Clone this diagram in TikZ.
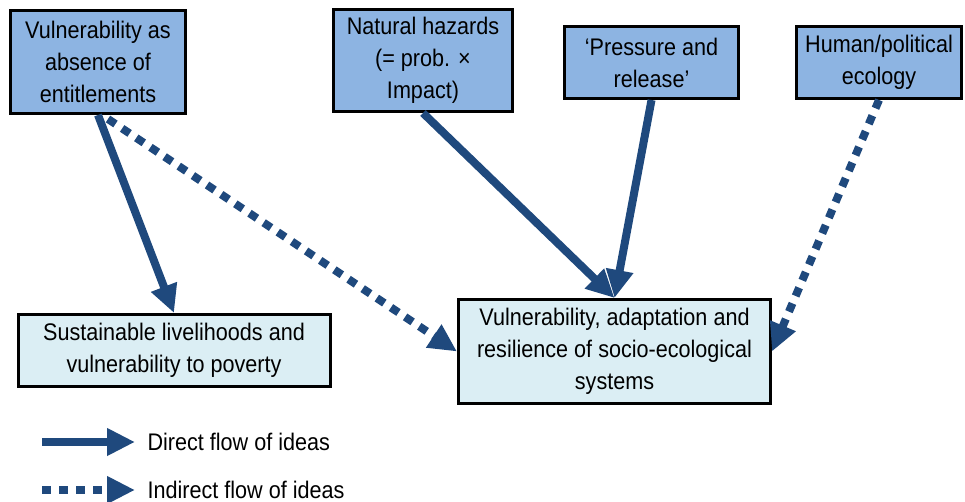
\documentclass[tikz,border=0pt]{standalone}
\usepackage{fontspec}
\setmainfont{Liberation Sans}[FakeStretch=0.9]
\usetikzlibrary{arrows.meta}
\definecolor{hdrblue}{HTML}{8DB4E2}
\definecolor{paleblue}{HTML}{DBEEF4}
\definecolor{flowblue}{HTML}{1F497D}
\tikzset{
  every node/.style={font=\fontsize{24}{32}\selectfont},
  topbox/.style={draw=black, line width=3pt, fill=hdrblue, align=center, inner sep=0pt},
  lowbox/.style={draw=black, line width=3pt, fill=paleblue, align=center, inner sep=0pt},
  direct/.style={draw=flowblue, line width=8pt, -{Triangle[length=28pt,width=26pt]}},
  indirect/.style={direct, dash pattern=on 9pt off 8pt}
}
\begin{document}
\begin{tikzpicture}[x=1pt,y=-1pt]
   \useasboundingbox (0,0) rectangle (965,502);
   % source boxes
   \node[topbox, minimum width=175pt, minimum height=103pt] (entitle) at (98,62)
        {Vulnerability as\\absence of\\entitlements};
   \node[topbox, minimum width=179pt, minimum height=102pt] (hazard) at (423,60.5)
        {Natural hazards\\(= prob. ×\\Impact)};
   \node[topbox, minimum width=174pt, minimum height=72pt] (pressure) at (651.5,62.5)
        {‘Pressure and\\release’};
   \node[topbox, minimum width=165pt, minimum height=72pt] (ecology) at (879,62.5)
        {Human/political\\ecology};
   % target boxes
   \node[lowbox, minimum width=312pt, minimum height=72pt] (liveli) at (174,350.5)
        {Sustainable livelihoods and\\vulnerability to poverty};
   \node[lowbox, minimum width=312pt, minimum height=104pt] (socio) at (614.5,351.5)
        {Vulnerability, adaptation and\\resilience of socio-ecological\\systems};
   % flows
   \draw[direct]   (entitle.south) -- (liveli.north);
   \draw[indirect] ([xshift=10pt,yshift=-4pt]entitle.south) -- (socio.west);
   \draw[direct]   (hazard.south) -- (socio.north);
   \draw[direct]   (pressure.south) -- (socio.north);
   \draw[indirect] (ecology.south) -- (socio.east);
   % legend
   \coordinate (d1) at (42,442);
   \node[anchor=west] (dtext) at (144,442) {Direct flow of ideas};
   \draw[direct] (d1) -- ([xshift=-9pt]dtext.west);
   \coordinate (i1) at (42,490);
   \node[anchor=west] (itext) at (144,490) {Indirect flow of ideas};
   \draw[indirect] (i1) -- ([xshift=-9pt]itext.west);
\end{tikzpicture}
\end{document}
